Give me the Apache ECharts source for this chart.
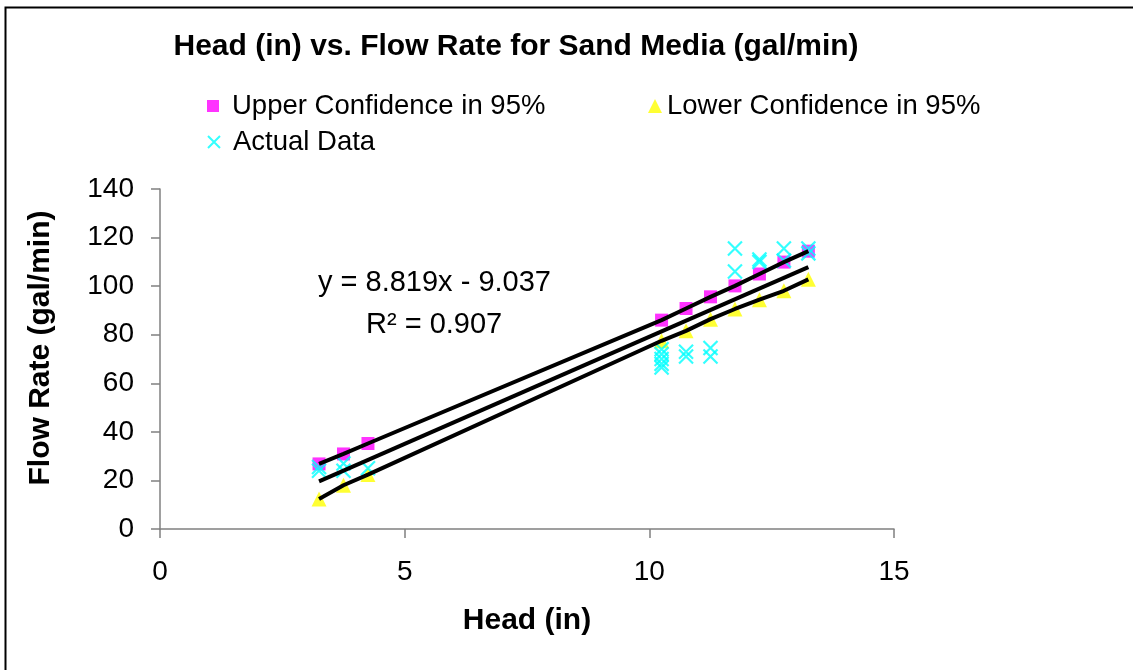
<!DOCTYPE html>
<html>
<head>
<meta charset="utf-8">
<script src="https://cdn.jsdelivr.net/npm/echarts@6/dist/echarts.min.js"></script>
<style>html,body{margin:0;padding:0;background:#fff}#c{width:1133px;height:670px}</style>
</head>
<body>
<div id="c"></div>
<script>
// Data
const xVals = [3.25, 3.75, 4.25, 10.25, 10.75, 11.25, 11.75, 12.25, 12.75, 13.25];
const upperVals = [26.8, 30.9, 35.2, 86.0, 90.8, 95.6, 100.1, 105.0, 109.9, 114.4];
const lowerVals = [12.4, 18.0, 22.4, 77.5, 81.6, 86.4, 90.6, 94.4, 98.1, 102.8];
const actualX = [3.25, 3.25, 3.75, 3.75, 4.25,
  10.25, 10.25, 10.25, 10.25, 10.25, 10.75, 10.75, 11.25, 11.25,
  11.75, 11.75, 12.25, 12.25, 12.75, 12.75, 13.25, 13.25];
const actualY = [24, 25.5, 27, 24, 25,
  74, 72, 70, 68, 66.5, 73, 71, 74.5, 71,
  115.5, 106, 111, 110, 115.5, 110.5, 115.5, 113.5];
const fitX = [3.25, 13.25];
const fitY = [19.6, 107.8];
const xTicks = [0, 5, 10, 15];
const yTicks = [0, 20, 40, 60, 80, 100, 120, 140];

const pairs = (xs, ys) => xs.map((x, i) => [x, ys[i]]);
const FONT = '"Liberation Sans", Arial, sans-serif';
const xPath = 'path://M0,0L10,10M10,0L0,10';

const chart = echarts.init(document.getElementById('c'), null, {renderer: 'canvas'});
chart.setOption({
  animation: false,
  backgroundColor: '#fff',
  textStyle: {fontFamily: FONT},
  title: {
    text: 'Head (in) vs. Flow Rate for Sand Media (gal/min)',
    left: 516, top: 32, textAlign: 'center', padding: 0,
    textStyle: {fontFamily: FONT, fontSize: 30, fontWeight: 'bold', color: '#000'}
  },
  legend: [
    {data: ['Upper Confidence in 95%'], left: 207, top: 92, padding: 0, itemWidth: 12, itemHeight: 12,
     textStyle: {fontFamily: FONT, fontSize: 27.5, color: '#000', padding: [0, 0, 0, 8]}},
    {data: ['Lower Confidence in 95%'], left: 648, top: 92, padding: 0, itemWidth: 14, itemHeight: 14,
     textStyle: {fontFamily: FONT, fontSize: 27.5, color: '#000', padding: [0, 0, 0, 0]}},
    {data: ['Actual Data'], left: 207, top: 128, padding: 0, itemWidth: 12, itemHeight: 12,
     textStyle: {fontFamily: FONT, fontSize: 27.5, color: '#000', padding: [0, 0, 0, 8]}}
  ],
  grid: {left: 160, right: 239, top: 189, bottom: 141, containLabel: false},
  xAxis: {
    type: 'value', min: xTicks[0], max: xTicks[xTicks.length - 1], interval: 5,
    name: 'Head (in)', nameLocation: 'middle', nameGap: 77,
    nameTextStyle: {fontFamily: FONT, fontSize: 30, fontWeight: 'bold', color: '#000'},
    axisLine: {show: true, lineStyle: {color: '#808080', width: 1.5}},
    axisTick: {show: true, inside: false, length: 9, lineStyle: {color: '#808080', width: 1.5}},
    axisLabel: {fontFamily: FONT, fontSize: 28, color: '#000', margin: 29},
    splitLine: {show: false}
  },
  yAxis: {
    type: 'value', min: yTicks[0], max: yTicks[yTicks.length - 1], interval: 20,
    name: 'Flow Rate (gal/min)', nameLocation: 'middle', nameGap: 104,
    nameTextStyle: {fontFamily: FONT, fontSize: 30, fontWeight: 'bold', color: '#000', padding: [0, 0, 0, 22]},
    axisLine: {show: true, lineStyle: {color: '#808080', width: 1.5}},
    axisTick: {show: true, inside: false, length: 9, lineStyle: {color: '#808080', width: 1.5}},
    axisLabel: {fontFamily: FONT, fontSize: 28, color: '#000', margin: 26},
    splitLine: {show: false}
  },
  series: [
    {name: 'Upper Confidence in 95%', type: 'scatter', symbol: 'rect', symbolSize: 13,
     itemStyle: {color: '#FF00FF'}, data: pairs(xVals, upperVals), z: 2},
    {name: 'Lower Confidence in 95%', type: 'scatter', symbol: 'triangle', symbolSize: 15,
     itemStyle: {color: '#FFFF00'}, data: pairs(xVals, lowerVals), z: 2},
    {name: 'Actual Data', type: 'scatter', symbol: xPath, symbolSize: 14,
     itemStyle: {color: 'rgba(0,0,0,0)', borderColor: '#00FFFF', borderWidth: 2.2},
     data: pairs(actualX, actualY), z: 3},
    {name: 'upperLine', type: 'line', showSymbol: false, symbol: 'none', silent: true,
     lineStyle: {color: '#000', width: 4}, data: pairs(xVals, upperVals), z: 4},
    {name: 'fitLine', type: 'line', showSymbol: false, symbol: 'none', silent: true,
     lineStyle: {color: '#000', width: 4}, data: pairs(fitX, fitY), z: 4},
    {name: 'lowerLine', type: 'line', showSymbol: false, symbol: 'none', silent: true,
     lineStyle: {color: '#000', width: 4}, data: pairs(xVals, lowerVals), z: 4}
  ],
  graphic: [
    {type: 'rect', left: 3, top: 5, silent: true, z: -1,
     shape: {width: 1200, height: 720}, style: {fill: 'none', stroke: '#000', lineWidth: 2}},
    {type: 'text', left: 318, top: 268, style: {text: 'y = 8.819x - 9.037', font: '29px ' + FONT, fill: '#000'}},
    {type: 'text', left: 366, top: 310, style: {text: 'R² = 0.907', font: '29px ' + FONT, fill: '#000'}}
  ]
});
</script>
</body>
</html>
